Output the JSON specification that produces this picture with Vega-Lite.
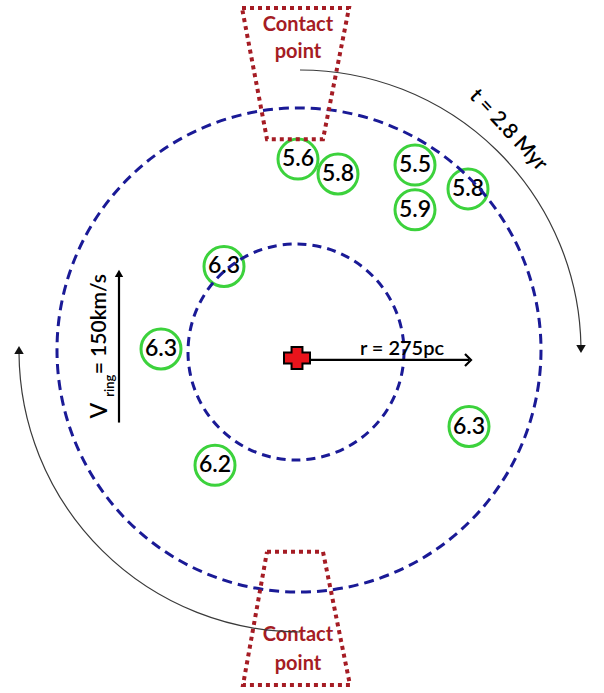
{
  "$schema": "https://vega.github.io/schema/vega-lite/v6.json",
  "width": 604,
  "height": 693,
  "autosize": {"type": "fit", "contains": "padding"},
  "padding": 0,
  "background": "white",
  "config": {"view": {"stroke": null}, "text": {"font": "Lato"}},
  "datasets": {
    "labels": [
      {"v": "5.6", "x": 298, "y": 157},
      {"v": "5.8", "x": 338, "y": 172},
      {"v": "5.5", "x": 415, "y": 163},
      {"v": "5.9", "x": 415, "y": 208},
      {"v": "5.8", "x": 468, "y": 187},
      {"v": "6.3", "x": 224, "y": 265},
      {"v": "6.3", "x": 161, "y": 348},
      {"v": "6.2", "x": 215, "y": 465},
      {"v": "6.3", "x": 469, "y": 426}
    ],
    "outer": [{"x": 299, "y": 349}],
    "inner": [{"x": 296, "y": 351}],
    "traps": [
      {"g": "top", "i": 0, "x": 242, "y": 5},
      {"g": "top", "i": 1, "x": 349, "y": 5},
      {"g": "top", "i": 2, "x": 323, "y": 137},
      {"g": "top", "i": 3, "x": 267, "y": 137},
      {"g": "top", "i": 4, "x": 242, "y": 5},
      {"g": "bottom", "i": 0, "x": 267, "y": 552},
      {"g": "bottom", "i": 1, "x": 323, "y": 552},
      {"g": "bottom", "i": 2, "x": 350, "y": 686},
      {"g": "bottom", "i": 3, "x": 243, "y": 686},
      {"g": "bottom", "i": 4, "x": 267, "y": 552}
    ],
    "contact": [
      {"t": "Contact", "x": 298, "y": 28},
      {"t": "point", "x": 298, "y": 55},
      {"t": "Contact", "x": 298, "y": 642},
      {"t": "point", "x": 298, "y": 671}
    ],
    "arcCenter": [{"x": 300, "y": 350}],
    "headDown": [{"x": 581, "y": 348}],
    "headUp": [{"x": 19, "y": 349}],
    "cross": [{"x": 297, "y": 357}],
    "rArrow": [{"x": 300, "x2": 469, "y": 359}],
    "rHead": [{"x": 471, "y": 359}],
    "rText": [{"t": "r = 275pc", "x": 402, "y": 348}],
    "vArrow": [{"x": 119, "y": 422, "y2": 274}],
    "vHead": [{"x": 119, "y": 272}],
    "vMain": [{"t": "V", "x": 100, "y": 410}],
    "vSub": [{"t": "ring", "x": 110, "y": 385}],
    "vRest": [{"t": "= 150km/s", "x": 100, "y": 323}],
    "tText": [{"t": "t = 2.8 Myr", "x": 508, "y": 128}]
  },
  "encoding": {
    "x": {"field": "x", "type": "quantitative", "scale": {"domain": [0, 604], "nice": false, "zero": false}, "axis": null},
    "y": {"field": "y", "type": "quantitative", "scale": {"domain": [0, 693], "nice": false, "zero": false, "reverse": true}, "axis": null}
  },
  "layer": [
    {
      "data": {"name": "labels"},
      "mark": {"type": "point", "shape": "circle", "size": 1600, "filled": false, "stroke": "#3cd23c", "strokeWidth": 3, "opacity": 1}
    },
    {
      "data": {"name": "labels"},
      "mark": {"type": "text", "fontSize": 23, "fontWeight": 600, "color": "black", "align": "center", "baseline": "middle"},
      "encoding": {"text": {"field": "v", "type": "nominal"}}
    },
    {
      "data": {"name": "outer"},
      "mark": {"type": "point", "shape": "circle", "size": 234256, "filled": false, "stroke": "#1a1a96", "strokeWidth": 3, "strokeDash": [10, 6], "opacity": 1}
    },
    {
      "data": {"name": "inner"},
      "mark": {"type": "point", "shape": "circle", "size": 46656, "filled": false, "stroke": "#1a1a96", "strokeWidth": 3, "strokeDash": [9, 6], "opacity": 1}
    },
    {
      "data": {"name": "traps"},
      "mark": {"type": "line", "stroke": "#a51c24", "strokeWidth": 4, "strokeDash": [4, 4], "strokeCap": "butt"},
      "encoding": {"order": {"field": "i", "type": "quantitative"}, "detail": {"field": "g", "type": "nominal"}}
    },
    {
      "data": {"name": "contact"},
      "mark": {"type": "text", "fontSize": 20, "fontWeight": "bold", "color": "#a51c24", "align": "center", "baseline": "alphabetic"},
      "encoding": {"text": {"field": "t", "type": "nominal"}}
    },
    {
      "data": {"name": "arcCenter"},
      "mark": {"type": "arc", "theta": 0, "theta2": 1.553, "radius": 281, "radius2": 281, "filled": false, "stroke": "#3a3a3a", "strokeWidth": 1.2}
    },
    {
      "data": {"name": "arcCenter"},
      "mark": {"type": "arc", "theta": 3.1416, "theta2": 4.705, "radius": 281, "radius2": 281, "filled": false, "stroke": "#3a3a3a", "strokeWidth": 1.2}
    },
    {
      "data": {"name": "headDown"},
      "mark": {"type": "point", "shape": "triangle-down", "size": 90, "filled": true, "color": "#111", "opacity": 1}
    },
    {
      "data": {"name": "headUp"},
      "mark": {"type": "point", "shape": "triangle-up", "size": 90, "filled": true, "color": "#111", "opacity": 1}
    },
    {
      "data": {"name": "rArrow"},
      "mark": {"type": "rule", "color": "black", "strokeWidth": 2.2},
      "encoding": {"x2": {"field": "x2"}}
    },
    {
      "data": {"name": "rHead"},
      "mark": {"type": "point", "shape": "M-1,-1L0,0L-1,1", "size": 144, "filled": false, "stroke": "black", "strokeWidth": 2.2, "opacity": 1}
    },
    {
      "data": {"name": "cross"},
      "mark": {"type": "point", "shape": "M-0.42,-0.85H0.42V-0.42H1V0.42H0.42V0.85H-0.42V0.42H-1V-0.42H-0.42Z", "size": 676, "filled": true, "fill": "#e8141c", "stroke": "black", "strokeWidth": 2, "opacity": 1}
    },
    {
      "data": {"name": "rText"},
      "mark": {"type": "text", "fontSize": 20, "fontWeight": 600, "color": "black", "align": "center", "baseline": "middle"},
      "encoding": {"text": {"field": "t", "type": "nominal"}}
    },
    {
      "data": {"name": "vArrow"},
      "mark": {"type": "rule", "color": "black", "strokeWidth": 2.2},
      "encoding": {"y2": {"field": "y2"}}
    },
    {
      "data": {"name": "vHead"},
      "mark": {"type": "point", "shape": "triangle-up", "size": 70, "filled": true, "color": "black", "opacity": 1}
    },
    {
      "data": {"name": "vMain"},
      "mark": {"type": "text", "fontSize": 23, "fontWeight": 600, "angle": 270, "color": "black", "align": "center", "baseline": "middle"},
      "encoding": {"text": {"field": "t", "type": "nominal"}}
    },
    {
      "data": {"name": "vSub"},
      "mark": {"type": "text", "fontSize": 13, "fontWeight": 600, "angle": 270, "color": "black", "align": "center", "baseline": "middle"},
      "encoding": {"text": {"field": "t", "type": "nominal"}}
    },
    {
      "data": {"name": "vRest"},
      "mark": {"type": "text", "fontSize": 21, "fontWeight": 600, "angle": 270, "color": "black", "align": "center", "baseline": "middle"},
      "encoding": {"text": {"field": "t", "type": "nominal"}}
    },
    {
      "data": {"name": "tText"},
      "mark": {"type": "text", "fontSize": 21, "fontWeight": 600, "angle": 47, "color": "black", "align": "center", "baseline": "middle"},
      "encoding": {"text": {"field": "t", "type": "nominal"}}
    }
  ]
}
